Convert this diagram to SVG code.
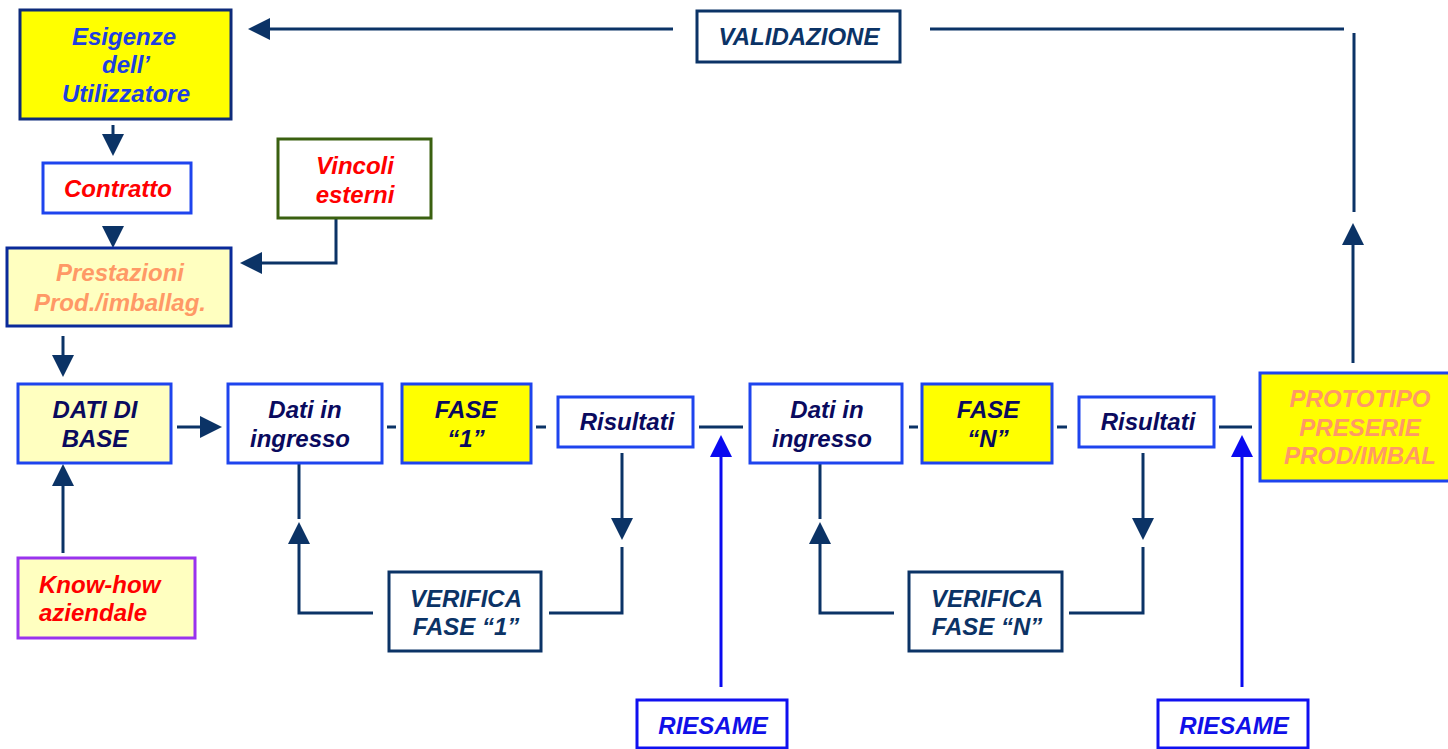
<svg xmlns="http://www.w3.org/2000/svg" width="1448" height="749" viewBox="0 0 1448 749">
<defs>
<marker id="ah" viewBox="0 0 22 22" refX="16" refY="11" markerWidth="22" markerHeight="22" markerUnits="userSpaceOnUse" orient="auto"><path d="M0,0 L22,11 L0,22 z" fill="#0B3366"/></marker>
<marker id="ahb" viewBox="0 0 22 22" refX="16" refY="11" markerWidth="22" markerHeight="22" markerUnits="userSpaceOnUse" orient="auto"><path d="M0,0 L22,11 L0,22 z" fill="#0A0AF0"/></marker>
<style>
text{font-family:"Liberation Sans",Arial,sans-serif;font-weight:bold;font-style:italic;font-size:24px;text-anchor:middle}
rect{stroke-width:3}
.bl{stroke:#1E44EE}
.wh{fill:#FFFFFF}
.ye{fill:#FFFF00}
.py{fill:#FFFFC0}
.nv{fill:#0A0A5E}
.dn{fill:#0B3366}
.rd{fill:#FF0000}
.sa{fill:#FF9966}
.c{fill:none;stroke:#0B3366;stroke-width:3}
.cb{fill:none;stroke:#0A0AF0;stroke-width:3}
</style>
</defs>
<rect width="1448" height="749" fill="#FFFFFF" style="stroke:none"/>
<g id="connectors">
<path class="c" d="M113,125 V150" marker-end="url(#ah)"/>
<path class="c" d="M113,227 V242" marker-end="url(#ah)"/>
<path class="c" d="M336,218 V263 H246" marker-end="url(#ah)"/>
<path class="c" d="M63,336 V371" marker-end="url(#ah)"/>
<path class="c" d="M63,553 V470" marker-end="url(#ah)"/>
<path class="c" d="M177,427 H216" marker-end="url(#ah)"/>
<path class="c" d="M387,427 H396 M536,427 H546 M909,427 H918 M1057,427 H1067"/>
<path class="c" d="M699,427 H743 M1219,427 H1252"/>
<path class="c" d="M622,453 V534" marker-end="url(#ah)"/>
<path class="c" d="M622,547 V613 H549"/>
<path class="c" d="M373,613 H299 V528" marker-end="url(#ah)"/>
<path class="c" d="M299,519 V463"/>
<path class="c" d="M820,463 V519"/>
<path class="c" d="M894,613 H820 V528" marker-end="url(#ah)"/>
<path class="c" d="M1143,453 V534" marker-end="url(#ah)"/>
<path class="c" d="M1143,547 V613 H1069"/>
<path class="cb" d="M721,687 V441" marker-end="url(#ahb)"/>
<path class="cb" d="M1242,687 V441" marker-end="url(#ahb)"/>
<path class="c" d="M1353,363 V229" marker-end="url(#ah)"/>
<path class="c" d="M1354,212 V33 M1344,29 H930"/>
<path class="c" d="M673,29 H254" marker-end="url(#ah)"/>
</g>
<g id="esigenze">
<rect x="20" y="10" width="211" height="109" class="ye" stroke="#0D2B7A"/>
<text x="124" y="45" fill="#1E40E0">Esigenze</text>
<text x="126" y="73" fill="#1E40E0">dell’</text>
<text x="126" y="102" fill="#1E40E0">Utilizzatore</text>
</g>
<g id="contratto">
<rect x="43" y="163" width="148" height="50" class="wh bl"/>
<text x="118" y="197" class="rd">Contratto</text>
</g>
<g id="vincoli">
<rect x="278" y="139" width="153" height="79" class="wh" stroke="#3A6010"/>
<text x="355" y="174" class="rd">Vincoli</text>
<text x="355" y="203" class="rd">esterni</text>
</g>
<g id="prestazioni">
<rect x="7" y="248" width="224" height="78" class="py" stroke="#0A2A9A"/>
<text x="120" y="281" class="sa">Prestazioni</text>
<text x="120" y="311" class="sa">Prod./imballag.</text>
</g>
<g id="datibase">
<rect x="18" y="384" width="153" height="79" class="py bl"/>
<text x="95" y="418" class="nv">DATI DI</text>
<text x="95" y="447" class="nv">BASE</text>
</g>
<g id="knowhow">
<rect x="18" y="558" width="177" height="80" class="py" stroke="#9933EE"/>
<text x="39" y="593" class="rd" style="text-anchor:start">Know-how</text>
<text x="39" y="621" class="rd" style="text-anchor:start">aziendale</text>
</g>
<g id="dati1">
<rect x="228" y="384" width="154" height="79" class="wh bl"/>
<text x="305" y="418" class="nv">Dati in</text>
<text x="300" y="447" class="nv">ingresso</text>
</g>
<g id="fase1">
<rect x="402" y="384" width="129" height="79" class="ye bl"/>
<text x="466" y="418" class="nv">FASE</text>
<text x="466" y="447" class="nv">“1”</text>
</g>
<g id="risultati1">
<rect x="558" y="397" width="135" height="50" class="wh bl"/>
<text x="627" y="430" class="nv">Risultati</text>
</g>
<g id="verifica1">
<rect x="389" y="572" width="152" height="79" class="wh" stroke="#0B3366"/>
<text x="466" y="607" class="dn">VERIFICA</text>
<text x="466" y="635" class="dn">FASE “1”</text>
</g>
<g id="riesame1">
<rect x="637" y="700" width="150" height="48" class="wh" stroke="#1010F0"/>
<text x="713" y="734" fill="#1010E8">RIESAME</text>
</g>
<g id="datiN">
<rect x="750" y="384" width="152" height="79" class="wh bl"/>
<text x="827" y="418" class="nv">Dati in</text>
<text x="822" y="447" class="nv">ingresso</text>
</g>
<g id="faseN">
<rect x="922" y="384" width="130" height="79" class="ye bl"/>
<text x="988" y="418" class="nv">FASE</text>
<text x="988" y="447" class="nv">“N”</text>
</g>
<g id="risultatiN">
<rect x="1079" y="397" width="135" height="50" class="wh bl"/>
<text x="1148" y="430" class="nv">Risultati</text>
</g>
<g id="verificaN">
<rect x="909" y="572" width="153" height="79" class="wh" stroke="#0B3366"/>
<text x="987" y="607" class="dn">VERIFICA</text>
<text x="987" y="635" class="dn">FASE “N”</text>
</g>
<g id="riesameN">
<rect x="1158" y="700" width="150" height="48" class="wh" stroke="#1010F0"/>
<text x="1234" y="734" fill="#1010E8">RIESAME</text>
</g>
<g id="prototipo">
<rect x="1260" y="373" width="200" height="108" class="ye bl"/>
<text x="1360" y="407" class="sa">PROTOTIPO</text>
<text x="1360" y="436" class="sa">PRESERIE</text>
<text x="1360" y="464" class="sa">PROD/IMBAL</text>
</g>
<g id="validazione">
<rect x="697" y="11" width="203" height="51" class="wh" stroke="#0B3366"/>
<text x="799" y="45" class="dn">VALIDAZIONE</text>
</g>
</svg>
